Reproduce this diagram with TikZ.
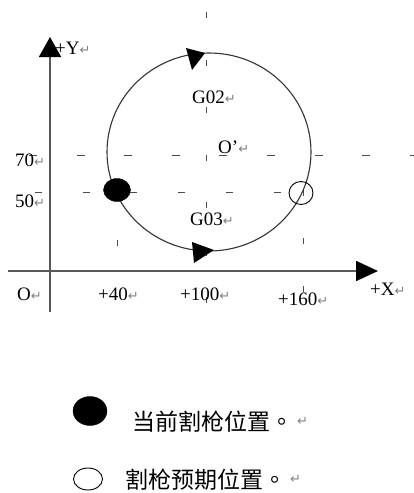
\documentclass[tikz,border=0pt]{standalone}
\usepackage{fontspec}
\setmainfont{Liberation Serif}
\newfontfamily\cjk{Noto Sans CJK SC}
\newfontfamily\cjktc{Noto Sans CJK TC}
\newfontfamily\symfont{DejaVu Sans}
\usetikzlibrary{arrows.meta,shapes.geometric}
\newcommand{\retmark}{{\symfont\fontsize{13}{13}\selectfont\color{gray}↵}}
\tikzset{
  axisline/.style={draw=black!65, line width=1.7pt},
  guide/.style={draw=black!70, line width=1pt},
  lbl/.style={anchor=base west, inner sep=0pt, font=\fontsize{19}{19}\selectfont},
  cnlbl/.style={anchor=base west, inner sep=0pt, font=\cjk\fontsize{23}{23}\selectfont},
  curdot/.style={ellipse, fill=black, draw=black, inner sep=0pt},
  expdot/.style={ellipse, draw=black, line width=0.9pt, inner sep=0pt},
  arc/.style={draw=black!80, line width=1.1pt},
  tri/.style={fill=black}
}
\begin{document}
\begin{tikzpicture}[x=1pt,y=-1pt]
\useasboundingbox (0,0) rectangle (414,493);
% guides
\draw[guide, dash pattern=on 8pt off 39.6pt] (29,155) -- (418,155);
\draw[guide, dash pattern=on 7pt off 40.7pt] (35,192) -- (290,192);
\draw[guide, dash pattern=on 6pt off 41.5pt] (206,12) -- (206,304);
\draw[guide, dash pattern=on 6pt off 42pt] (117,192) -- (117,246);
\draw[guide, dash pattern=on 6pt off 42pt] (303,190) -- (303,295);
% axes
\coordinate (ytop) at (50,37);
\coordinate (ybot) at (50,312);
\coordinate (xleft) at (8,271);
\coordinate (xright) at (378,271);
\draw[axisline, -{Triangle[length=20pt,width=22pt,black]}] (ybot) -- (ytop);
\draw[axisline, -{Triangle[length=22pt,width=20pt,black]}] (xleft) -- (xright);
% circle
\coordinate (Oc) at (209,152);
\draw[arc] (Oc) ellipse [x radius=102, y radius=99];
\fill[tri] (186,48) -- (205,53) -- (192,70) -- cycle;
\fill[tri] (192,242) -- (214,250) -- (194,263) -- cycle;
% positions
\node[curdot, minimum width=27pt, minimum height=23pt] (cur) at (117,190) {};
\node[expdot, minimum width=24pt, minimum height=23pt] (exp) at (301,193) {};
% labels
\node[lbl] (ly) at (55,54) {+Y\retmark};
\node[lbl] (lg2) at (192,103) {G02\retmark};
\node[lbl] (lo2) at (218,153) {O'\retmark};
\node[lbl] (l70) at (15,166) {70\retmark};
\node[lbl] (l50) at (15,207) {50\retmark};
\node[lbl] (lg3) at (190,225) {G03\retmark};
\node[lbl] (lo) at (17,300) {O\retmark};
\node[lbl] (l40) at (98,300) {+40\retmark};
\node[lbl] (l100) at (180,300) {+100\retmark};
\node[lbl] (l160) at (278,305) {+160\retmark};
\node[lbl] (lx) at (370,295) {+X\retmark};
% legend
\node[curdot, minimum width=34pt, minimum height=29pt] (legcur) at (90,411) {};
\node[expdot, minimum width=29pt, minimum height=22pt] (legexp) at (88,479) {};
\node[cnlbl] (t1) at (132,430) {当前割枪位置{\cjktc 。}\,\raisebox{5pt}{\retmark}};
\node[cnlbl] (t2) at (125,488) {割枪预期位置{\cjktc 。}\,\raisebox{5pt}{\retmark}};
\end{tikzpicture}
\end{document}
